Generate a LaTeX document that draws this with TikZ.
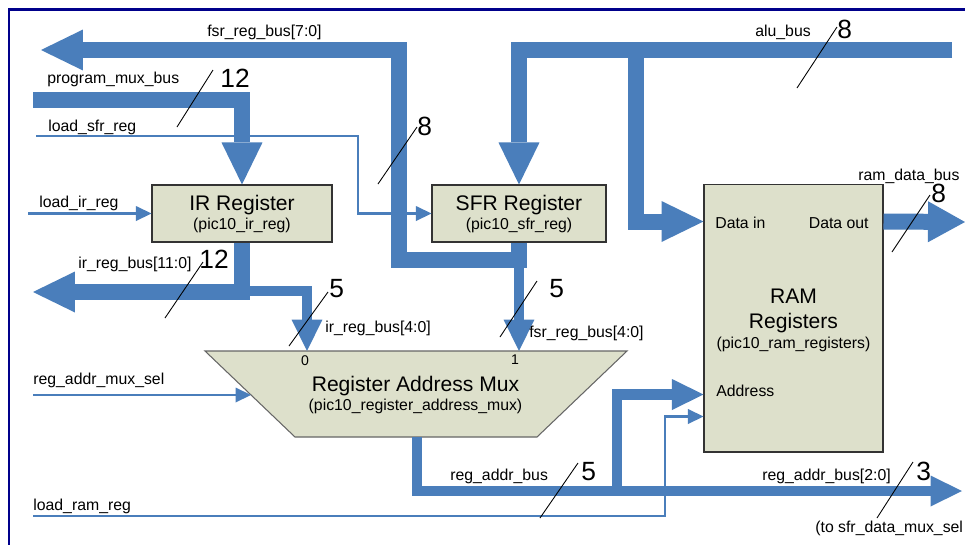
\documentclass[tikz,border=0pt]{standalone}
\usepackage{fontspec}
\setmainfont{Liberation Sans}
\usetikzlibrary{arrows.meta}
\usetikzlibrary{positioning}
\usetikzlibrary{calc}

\definecolor{busblue}{RGB}{74,126,187}
\definecolor{boxfill}{RGB}{221,224,203}
\definecolor{framenavy}{RGB}{0,0,139}

\begin{document}
\begin{tikzpicture}[x=0.02cm, y=-0.02cm,
  bus/.style={draw=busblue, line width=0.32cm, line join=miter},
  narrowbus/.style={draw=busblue, line width=0.21cm, line join=miter},
  wire/.style={draw=busblue, line width=0.05cm, line join=miter},
  bighead/.style={-{Triangle[length=0.84cm,width=0.82cm,line width=0pt]}},
  outhead/.style={-{Triangle[length=0.74cm,width=0.82cm,line width=0pt]}},
  midhead/.style={-{Triangle[length=0.63cm,width=0.62cm,line width=0pt]}},
  smallhead/.style={-{Triangle[length=0.31cm,width=0.3cm,line width=0pt]}},
  regbox/.style={draw=black!80, fill=boxfill, line width=0.6pt, inner sep=0pt},
  lbl/.style={font=\fontsize{9}{10}\selectfont, anchor=base west, inner sep=0pt},
  title/.style={font=\fontsize{12}{13}\selectfont, anchor=base, inner sep=0pt},
  subtitle/.style={font=\fontsize{9}{10}\selectfont, anchor=base, inner sep=0pt},
  port/.style={font=\fontsize{8}{9}\selectfont, anchor=base, inner sep=0pt},
  bitnum/.style={font=\fontsize{15}{16}\selectfont, anchor=base west, inner sep=0pt},
  slash/.style={draw=black, line width=0.5pt}]
  \useasboundingbox (0,0) rectangle (965,545);
  \fill[white] (0,0) rectangle (965,545);
  \draw[framenavy, line width=0.06cm, line join=miter] (9,545) -- (9,9) -- (965,9);

  % blocks
  \node[regbox, minimum width=3.6cm, minimum height=1.14cm] (ir) at (242,213.5) {};
  \node[regbox, minimum width=3.48cm, minimum height=1.14cm] (sfr) at (519,213.5) {};
  \node[regbox, minimum width=3.58cm, minimum height=5.36cm] (ram) at (793.5,318) {};
  \draw[draw=black!60, fill=boxfill, line width=0.6pt]
    (205,351) -- (627,351) -- (537,437) -- (295,437) -- cycle;
  \coordinate (mux0) at (307,351);
  \coordinate (mux1) at (519,351);
  \coordinate (muxsel) at (251,395);
  \coordinate (muxout) at (417,437);
  \coordinate (ramdin) at ($(ram.north west)+(0,38)$);
  \coordinate (ramdout) at ($(ram.north east)+(0,38)$);
  \coordinate (ramaddr) at ($(ram.north west)+(0,211)$);
  \coordinate (ramload) at ($(ram.north west)+(0,233)$);

  \node[title] (irtitle) at (242,210) {IR Register};
  \node[subtitle] (irname) at (242,229) {(pic10\_ir\_reg)};
  \node[title] (sfrtitle) at (519,210) {SFR Register};
  \node[subtitle] (sfrname) at (519,229) {(pic10\_sfr\_reg)};
  \node[title] (ramtitle) at (793.5,303) {RAM};
  \node[title] (ramtitleb) at (793.5,328) {Registers};
  \node[subtitle] (ramname) at (793.5,348) {(pic10\_ram\_registers)};
  \node[lbl] (datain) at (715,228) {Data in};
  \node[lbl, anchor=base east] (dataout) at (869,228) {Data out};
  \node[lbl] (address) at (716,396) {Address};
  \node[title] (muxtitle) at (415.5,391) {Register Address Mux};
  \node[subtitle] (muxname) at (415.5,410) {(pic10\_register\_address\_mux)};
  \node[port] (portzero) at (305,365) {0};
  \node[port] (portone) at (515,364) {1};

  % buses
  \coordinate (pmbin) at (33,100);
  \draw[bus,bighead] (pmbin) -| (ir.north);
  \coordinate (irbusout) at (33,292);
  \draw[bus,bighead] (ir.south) |- (irbusout);
  \coordinate (irtap) at (242,291);
  \draw[narrowbus,midhead] (irtap) -| (mux0);
  \coordinate (fsrturn) at (398.5,260);
  \coordinate (fsrout) at (41,50);
  \draw[bus,bighead] (sfr.south) |- (fsrturn) |- (fsrout);
  \coordinate (sfrtap) at (519,258);
  \draw[narrowbus,midhead] (sfrtap) -- (mux1);
  \coordinate (aluin) at (952,50);
  \draw[bus,bighead] (aluin) -| (sfr.north);
  \coordinate (alutap) at (636,50);
  \draw[bus,bighead] (alutap) |- (ramdin);
  \coordinate (ramdataout) at (965,222);
  \draw[bus,outhead] (ramdout) -- (ramdataout);
  \coordinate (raddrturn) at (617,491);
  \draw[narrowbus,midhead] (muxout) |- (raddrturn) |- (ramaddr);
  \coordinate (raddrout) at (962,491);
  \draw[narrowbus,midhead] (raddrturn) -- (raddrout);

  % control wires
  \coordinate (lsfrin) at (36,136);
  \coordinate (lsfrbend) at (358,136);
  \draw[wire,smallhead] (lsfrin) -- (lsfrbend) |- (sfr.west);
  \coordinate (lirin) at (28,213.5);
  \draw[wire,smallhead] (lirin) -- (ir.west);
  \coordinate (ramsin) at (33,395);
  \draw[wire,smallhead] (ramsin) -- (muxsel);
  \coordinate (lramin) at (33,516);
  \coordinate (lrambend) at (665,516);
  \draw[wire,smallhead] (lramin) -- (lrambend) |- (ramload);

  % labels
  \node[lbl] (fsrlbl) at (207,36) {fsr\_reg\_bus[7:0]};
  \node[lbl] (pmblbl) at (47,83) {program\_mux\_bus};
  \node[lbl] (lsfrlbl) at (48,131) {load\_sfr\_reg};
  \node[lbl] (lirlbl) at (39,207) {load\_ir\_reg};
  \node[lbl] (irbuslbl) at (78,268) {ir\_reg\_bus[11:0]};
  \node[lbl] (irlowlbl) at (325,332) {ir\_reg\_bus[4:0]};
  \node[lbl] (fsrlowlbl) at (529,337) {fsr\_reg\_bus[4:0]};
  \node[lbl] (ramslbl) at (33,384) {reg\_addr\_mux\_sel};
  \node[lbl] (lramlbl) at (33,510) {load\_ram\_reg};
  \node[lbl] (raddrlbl) at (450,480) {reg\_addr\_bus};
  \node[lbl] (raddrlowlbl) at (762,480) {reg\_addr\_bus[2:0]};
  \node[lbl] (tosfrlbl) at (815,532) {(to sfr\_data\_mux\_sel};
  \node[lbl] (alulbl) at (755,36) {alu\_bus};
  \node[lbl] (ramdatalbl) at (858,180) {ram\_data\_bus};

  % bus widths
  \draw[slash] (177,127) -- (213,70);
  \node[bitnum] (pmbwidth) at (220,87) {12};
  \draw[slash] (378,184) -- (417,127);
  \node[bitnum] (fsrwidth) at (417,135) {8};
  \draw[slash] (165,318) -- (203,262);
  \node[bitnum] (irwidth) at (199,268) {12};
  \draw[slash] (289,346) -- (328,292);
  \node[bitnum] (irlowwidth) at (329,297) {5};
  \draw[slash] (500,337) -- (537,281);
  \node[bitnum] (fsrlowwidth) at (549,297) {5};
  \draw[slash] (797,88) -- (837,27);
  \node[bitnum] (aluwidth) at (837,38) {8};
  \draw[slash] (892,252) -- (930,195);
  \node[bitnum] (ramdatawidth) at (931,202) {8};
  \draw[slash] (540,518) -- (578,463);
  \node[bitnum] (raddrwidth) at (581,480) {5};
  \draw[slash] (877,518) -- (913,462);
  \node[bitnum] (raddrlowwidth) at (916,480) {3};
\end{tikzpicture}
\end{document}
